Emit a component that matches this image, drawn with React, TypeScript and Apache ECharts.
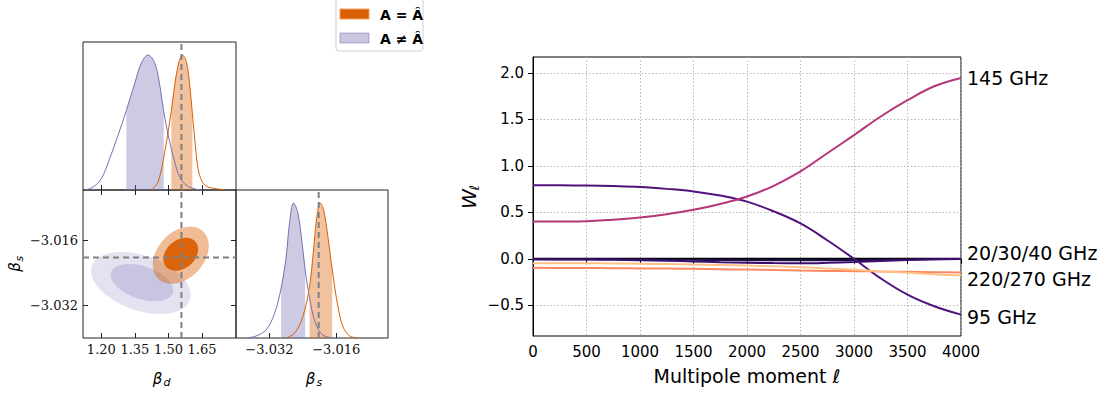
import React, { useEffect, useRef } from "react";
import * as echarts from "echarts";

// ---------- colours ----------
const ORANGE = "#d95f02";
const PURPLE = "#7570b3";

// ---------- corner plot: axis ranges & ticks ----------
const BD_RANGE = [1.118, 1.802];
const BS_RANGE = [-3.04, -3.0036];
const BD_TICKS = [1.2, 1.35, 1.5, 1.65];
const BS_TICKS = [-3.032, -3.016];
const DENS_MAX = 1.096;
const TRUTH_BD = 1.558;
const TRUTH_BS = -3.0202;

// 1D marginal of beta_d  [beta_d, normalised density]
const bdPurple = [
  [1.1257, 0], [1.1629, 0.022], [1.2001, 0.084], [1.2374, 0.233], [1.2747, 0.406],
  [1.3119, 0.59], [1.3492, 0.79], [1.3789, 0.94], [1.4088, 1.0], [1.4386, 0.94],
  [1.4609, 0.78], [1.4788, 0.58], [1.5056, 0.356], [1.528, 0.208], [1.5503, 0.097],
  [1.5801, 0.035], [1.6248, 0.005], [1.6546, 0],
];
const bdOrange = [
  [1.4237, 0], [1.4535, 0.06], [1.4833, 0.28], [1.5131, 0.59], [1.528, 0.78],
  [1.5473, 0.95], [1.5622, 1.0], [1.5801, 0.95], [1.595, 0.777], [1.6069, 0.567],
  [1.6203, 0.33], [1.6323, 0.158], [1.6516, 0.06], [1.677, 0.022], [1.7142, 0.01], [1.7515, 0],
];
const bdPurpleCI = [1.3119, 1.4788];
const bdOrangeCI = [1.5131, 1.6069];

// 1D marginal of beta_s
const bsPurple = [
  [-3.03759, 0], [-3.03519, 0.015], [-3.03279, 0.06], [-3.03079, 0.18], [-3.02919, 0.37],
  [-3.02799, 0.6], [-3.02719, 0.85], [-3.02623, 1.0], [-3.02519, 0.926], [-3.02415, 0.7],
  [-3.02343, 0.5], [-3.02199, 0.233], [-3.02079, 0.097], [-3.01919, 0.022], [-3.01679, 0],
];
const bsOrange = [
  [-3.02799, 0], [-3.02599, 0.035], [-3.02399, 0.158], [-3.02239, 0.38], [-3.02143, 0.653],
  [-3.02063, 0.9], [-3.01983, 1.0], [-3.01903, 0.95], [-3.01799, 0.75], [-3.01695, 0.505],
  [-3.01559, 0.233], [-3.01438, 0.084], [-3.01279, 0.015], [-3.01079, 0],
];
const bsPurpleCI = [-3.02919, -3.02343];
const bsOrangeCI = [-3.02239, -3.01695];

// 2D contours: [centre beta_d, centre beta_s, half-width beta_d, half-height beta_s, phase (deg)]
const contoursPurple = [
  [1.3766, -3.02648, 0.2226, 0.00764, 113],
  [1.382, -3.02638, 0.14, 0.00456, 114],
];
const contoursOrange = [
  [1.555, -3.01964, 0.1252, 0.00703, 71],
  [1.555, -3.0194, 0.0775, 0.00405, 73],
];

// ---------- right panel: weights vs multipole ----------
const ell = [0, 250, 500, 750, 1000, 1250, 1500, 1750, 2000, 2250, 2500, 2750, 3000, 3250, 3500, 3750, 4000];
const w20 = [0, 0, 0, 0, 0, 0, 0, 0, 0, 0, 0, 0, 0, 0, 0, 0, 0];
const w30 = [-0.004, -0.004, -0.005, -0.006, -0.007, -0.009, -0.011, -0.013, -0.015, -0.016, -0.016, -0.015, -0.013, -0.01, -0.007, -0.004, -0.002];
const w40 = [-0.006, -0.007, -0.008, -0.011, -0.015, -0.021, -0.028, -0.036, -0.042, -0.046, -0.047, -0.043, -0.035, -0.024, -0.013, -0.006, -0.003];
const w95 = [0.79, 0.79, 0.788, 0.782, 0.772, 0.752, 0.725, 0.68, 0.615, 0.51, 0.38, 0.2, 0.0, -0.21, -0.385, -0.51, -0.6];
const w145 = [0.4, 0.401, 0.405, 0.42, 0.445, 0.48, 0.527, 0.59, 0.67, 0.785, 0.94, 1.135, 1.33, 1.53, 1.705, 1.855, 1.945];
const w220 = [-0.097, -0.098, -0.099, -0.101, -0.103, -0.105, -0.108, -0.112, -0.116, -0.121, -0.126, -0.13, -0.133, -0.137, -0.14, -0.144, -0.147];
const w270 = [-0.047, -0.047, -0.048, -0.05, -0.053, -0.057, -0.061, -0.067, -0.073, -0.081, -0.09, -0.103, -0.118, -0.134, -0.15, -0.166, -0.18];
const W_RANGE = [-0.83, 2.17];
const W_TICKS = [-0.5, 0, 0.5, 1, 1.5, 2];
const channelNames = ["20 GHz", "30 GHz", "40 GHz", "95 GHz", "145 GHz", "220 GHz", "270 GHz"];
const channelValues = [w20, w30, w40, w95, w145, w220, w270];
const channelColors = ["#000004", "#1c1044", "#3b0f70", "#51127c", "#b63679", "#fb8861", "#fec287"];
const sideLabels = ["145 GHz", "20/30/40 GHz", "220/270 GHz", "95 GHz"];

const SERIF = "DejaVu Serif";
const SANS = "DejaVu Sans";
const minusFmt = (v: number, d: number) => (v < 0 ? "\u2212" : "") + Math.abs(v).toFixed(d);

const within = (pts: number[][], ci: number[]) => pts.filter((p) => p[0] >= ci[0] - 1e-9 && p[0] <= ci[1] + 1e-9);

function curve(data: number[][], color: string, xi: number, yi: number) {
  return {
    type: "line", xAxisIndex: xi, yAxisIndex: yi, data, showSymbol: false, smooth: 0.35, silent: true,
    lineStyle: { color, width: 1 }, z: 3,
  };
}
function shade(data: number[][], fill: string, xi: number, yi: number) {
  return {
    type: "line", xAxisIndex: xi, yAxisIndex: yi, data, showSymbol: false, smooth: 0.35, silent: true,
    lineStyle: { width: 0, opacity: 0 }, areaStyle: { color: fill, opacity: 1 }, z: 2,
  };
}
function dashed(data: number[][], xi: number, yi: number) {
  return {
    type: "line", xAxisIndex: xi, yAxisIndex: yi, data, showSymbol: false, silent: true,
    lineStyle: { color: "#808080", width: 2, type: [6, 4] }, z: 5,
  };
}
function ellipses(rows: number[][], fills: string[]) {
  return {
    type: "custom", coordinateSystem: "cartesian2d", xAxisIndex: 1, yAxisIndex: 1, silent: true,
    encode: { x: 0, y: 1 }, data: rows, z: 2,
    renderItem: (params: any, api: any) => {
      const cx = api.value(0), cy = api.value(1), w = api.value(2), h = api.value(3);
      const d = (api.value(4) * Math.PI) / 180;
      const pts: number[][] = [];
      for (let i = 0; i < 96; i++) {
        const t = (i / 96) * Math.PI * 2;
        pts.push(api.coord([cx + w * Math.cos(t), cy + h * Math.cos(t - d)]));
      }
      return { type: "polygon", shape: { points: pts }, style: { fill: fills[params.dataIndex] } };
    },
  };
}

const innerTick = (vals: number[]) => ({ show: true, inside: true, length: 5, customValues: vals, lineStyle: { color: "#222", width: 1 } });
const serifLabel = (vals: number[], d: number, margin: number) => ({
  show: true, customValues: vals, formatter: (v: number) => minusFmt(v, d),
  fontFamily: SERIF, fontSize: 13, color: "#111", margin,
});
const off = { show: false };

function buildOption() {
  const gridBox = { show: true, borderColor: "#222", borderWidth: 1, backgroundColor: "transparent" };
  const txt = (x: number, y: number, text: string, size: number, extra: any = {}, rotation = 0) => ({
    type: "text", x, y, rotation, silent: true,
    style: { text, fontSize: size, fontFamily: SANS, fill: "#000", align: "center", verticalAlign: "middle", ...extra },
  });

  return {
    animation: false,
    backgroundColor: "#ffffff",
    grid: [
      { left: 83, top: 42, width: 153, height: 148, ...gridBox, outerBoundsMode: "none" },
      { left: 83, top: 190, width: 153, height: 148, ...gridBox, outerBoundsMode: "none" },
      { left: 236, top: 190, width: 152, height: 148, ...gridBox, outerBoundsMode: "none" },
      { left: 533, top: 57, width: 428, height: 279, show: true, borderColor: "#000", borderWidth: 1, outerBoundsMode: "none" },
    ],
    xAxis: [
      { gridIndex: 0, type: "value", min: BD_RANGE[0], max: BD_RANGE[1], axisLine: off, axisTick: innerTick(BD_TICKS), axisLabel: off, splitLine: off },
      { gridIndex: 1, type: "value", min: BD_RANGE[0], max: BD_RANGE[1], axisLine: off, axisTick: innerTick(BD_TICKS), axisLabel: serifLabel(BD_TICKS, 2, 5), splitLine: off },
      { gridIndex: 1, type: "value", position: "top", min: BD_RANGE[0], max: BD_RANGE[1], axisLine: off, axisTick: innerTick(BD_TICKS), axisLabel: off, splitLine: off },
      { gridIndex: 2, type: "value", min: BS_RANGE[0], max: BS_RANGE[1], axisLine: off, axisTick: innerTick(BS_TICKS), axisLabel: serifLabel(BS_TICKS, 3, 5), splitLine: off },
      {
        gridIndex: 3, type: "value", min: 0, max: 4000, interval: 500,
        axisLine: { show: true, lineStyle: { color: "#000", width: 1 } },
        axisTick: { show: true, inside: false, length: 5, lineStyle: { color: "#000" } },
        axisLabel: { fontFamily: SANS, fontSize: 15, color: "#000", margin: 8, formatter: (v: number) => String(Math.round(v)) },
        splitLine: { show: true, lineStyle: { color: "#b8b8b8", width: 1, type: [1.5, 2] } },
      },
    ],
    yAxis: [
      { gridIndex: 0, type: "value", min: 0, max: DENS_MAX, show: false },
      { gridIndex: 1, type: "value", min: BS_RANGE[0], max: BS_RANGE[1], axisLine: off, axisTick: innerTick(BS_TICKS), axisLabel: serifLabel(BS_TICKS, 3, 5), splitLine: off },
      { gridIndex: 1, type: "value", position: "right", min: BS_RANGE[0], max: BS_RANGE[1], axisLine: off, axisTick: innerTick(BS_TICKS), axisLabel: off, splitLine: off },
      { gridIndex: 2, type: "value", min: 0, max: DENS_MAX, show: false },
      {
        gridIndex: 3, type: "value", min: W_RANGE[0], max: W_RANGE[1],
        axisLine: { show: true, lineStyle: { color: "#000", width: 1 } },
        axisTick: { show: true, inside: false, length: 5, customValues: W_TICKS, lineStyle: { color: "#000" } },
        axisLabel: { customValues: W_TICKS, formatter: (v: number) => minusFmt(v, 1), fontFamily: SANS, fontSize: 15, color: "#000", margin: 9 },
        splitLine: { show: true, lineStyle: { color: "#b8b8b8", width: 1, type: [1.5, 2] } },
      },
    ],
    series: [
      // top-left: beta_d marginal
      shade(within(bdPurple, bdPurpleCI), "rgba(117,112,179,0.36)", 0, 0),
      shade(within(bdOrange, bdOrangeCI), "rgba(217,95,2,0.38)", 0, 0),
      curve(bdPurple, PURPLE, 0, 0),
      curve(bdOrange, ORANGE, 0, 0),
      dashed([[TRUTH_BD, 0], [TRUTH_BD, DENS_MAX]], 0, 0),
      // 2D contours
      ellipses(contoursPurple, ["rgba(117,112,179,0.2)", "rgba(117,112,179,0.25)"]),
      ellipses(contoursOrange, ["rgba(217,95,2,0.42)", "rgba(217,95,2,0.95)"]),
      dashed([[TRUTH_BD, BS_RANGE[0]], [TRUTH_BD, BS_RANGE[1]]], 1, 1),
      dashed([[BD_RANGE[0], TRUTH_BS], [BD_RANGE[1], TRUTH_BS]], 1, 1),
      // bottom-right: beta_s marginal
      shade(within(bsPurple, bsPurpleCI), "rgba(117,112,179,0.36)", 3, 3),
      shade(within(bsOrange, bsOrangeCI), "rgba(217,95,2,0.38)", 3, 3),
      curve(bsPurple, PURPLE, 3, 3),
      curve(bsOrange, ORANGE, 3, 3),
      dashed([[TRUTH_BS, 0], [TRUTH_BS, DENS_MAX]], 3, 3),
      // right panel
      ...channelValues.map((vals, i) => ({
        name: channelNames[i], type: "line", xAxisIndex: 4, yAxisIndex: 4, showSymbol: false, smooth: 0.4, silent: true,
        data: ell.map((l, j) => [l, vals[j]]),
        lineStyle: { color: channelColors[i], width: 2 }, z: 3,
      })),
    ],
    graphic: [
      // legend
      { type: "rect", silent: true, shape: { x: 336, y: -5, width: 87, height: 56, r: 3 }, style: { fill: "rgba(255,255,255,0.85)", stroke: "#d0d0d0", lineWidth: 1 } },
      { type: "rect", silent: true, shape: { x: 340, y: 9, width: 29, height: 10 }, style: { fill: ORANGE, stroke: "#f0a060", lineWidth: 1 } },
      { type: "rect", silent: true, shape: { x: 340, y: 33, width: 29, height: 10 }, style: { fill: "rgba(117,112,179,0.4)", stroke: "rgba(117,112,179,0.5)", lineWidth: 1 } },
      txt(380, 15, "A = \u00C2", 14, { fontWeight: "bold", align: "left" }),
      txt(380, 39, "A \u2260 \u00C2", 14, { fontWeight: "bold", align: "left" }),
      // corner plot axis names
      txt(157.5, 378.5, "\u03B2", 15, { fontStyle: "italic" }),
      txt(163.5, 382.5, "d", 11, { fontStyle: "italic", align: "left" }),
      txt(310.5, 378.5, "\u03B2", 15, { fontStyle: "italic" }),
      txt(316.5, 382, "s", 11, { fontStyle: "italic", align: "left" }),
      txt(15, 267, "\u03B2", 15, { fontStyle: "italic" }, Math.PI / 2),
      txt(19, 261.5, "s", 11, { fontStyle: "italic", align: "left" }, Math.PI / 2),
      // right panel axis names
      txt(468.5, 199, "W", 20, { fontStyle: "italic" }, Math.PI / 2),
      txt(474.5, 190.5, "\u2113", 13, { fontStyle: "italic", align: "left" }, Math.PI / 2),
      txt(747, 376, "Multipole moment \u2113", 19),
      // side labels
      txt(967, 77.5, sideLabels[0], 19, { align: "left" }),
      txt(967, 252.5, sideLabels[1], 19, { align: "left" }),
      txt(967, 278.5, sideLabels[2], 19, { align: "left" }),
      txt(967, 316.5, sideLabels[3], 19, { align: "left" }),
    ],
  };
}

export default function App() {
  const ref = useRef<HTMLDivElement>(null);
  useEffect(() => {
    if (!ref.current) return;
    const chart = echarts.init(ref.current, null, { renderer: "svg" });
    chart.setOption(buildOption() as any);
    return () => chart.dispose();
  }, []);
  return (
    <div
      ref={ref}
      style={{ position: "absolute", left: 0, top: 0, width: 1111, height: 397, background: "#fff" }}
    />
  );
}
